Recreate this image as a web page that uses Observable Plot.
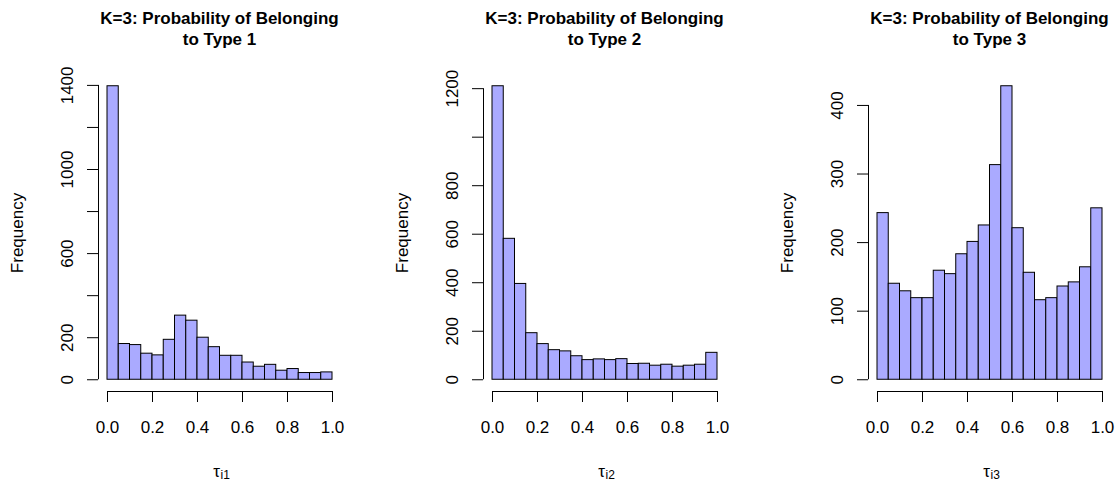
<!DOCTYPE html>
<html>
<head>
<meta charset="utf-8">
<script src="https://cdn.jsdelivr.net/npm/d3@7"></script>
<script src="https://cdn.jsdelivr.net/npm/@observablehq/plot@0.6"></script>
<style>
  html, body { margin: 0; padding: 0; background: #fff; }
  #wrap { position: relative; width: 1120px; height: 484px; overflow: hidden; background: #fff; }
  .panel { position: absolute; top: 0; width: 385px; height: 484px; }
  .title { position: absolute; top: 8px; width: 400px; text-align: center;
           font: bold 17px "Liberation Sans", Arial, sans-serif; line-height: 21px; color: #000; }
  .panel svg { position: absolute; left: 0; top: 0; }
</style>
</head>
<body>
<div id="wrap"></div>
<script>
// ---- data ----
const binStarts = [0, 0.05, 0.10, 0.15, 0.20, 0.25, 0.30, 0.35, 0.40, 0.45,
                   0.50, 0.55, 0.60, 0.65, 0.70, 0.75, 0.80, 0.85, 0.90, 0.95];
const binWidth = 0.05;

const counts1 = [1396, 170, 165, 124, 116, 190, 305, 281, 200, 155,
                 114, 114, 82, 62, 71, 43, 51, 32, 32, 35];
const counts2 = [1210, 581, 395, 192, 147, 122, 117, 97, 81, 84,
                 81, 85, 65, 66, 58, 62, 54, 58, 62, 111];
const counts3 = [243, 140, 129, 119, 119, 159, 154, 183, 201, 225,
                 313, 428, 221, 156, 116, 119, 136, 142, 164, 250];

const titles = ["K=3: Probability of Belonging<br>to Type 1",
                "K=3: Probability of Belonging<br>to Type 2",
                "K=3: Probability of Belonging<br>to Type 3"];
const xSubs = ["i1", "i2", "i3"];

const xTicks = [0, 0.2, 0.4, 0.6, 0.8, 1.0];
const yTicks1 = [0, 200, 400, 600, 800, 1000, 1200, 1400];
const yLabels1 = [0, 200, 600, 1000, 1400];
const yTicks2 = [0, 200, 400, 600, 800, 1000, 1200];
const yLabels2 = [0, 200, 400, 600, 800, 1200];
const yTicks3 = [0, 100, 200, 300, 400];
const yLabels3 = [0, 100, 200, 300, 400];

const panels = [
  {counts: counts1, yTicks: yTicks1, yLabels: yLabels1},
  {counts: counts2, yTicks: yTicks2, yLabels: yLabels2},
  {counts: counts3, yTicks: yTicks3, yLabels: yLabels3}
];

const FONT = '"Liberation Sans", Arial, sans-serif';
const W = 385, H = 484;
const mL = 98, mR = 44, mT = 74, mB = 93;

const wrap = document.getElementById("wrap");

panels.forEach((p, i) => {
  const data = binStarts.map((b, j) => ({x1: b, x2: b + binWidth, count: p.counts[j]}));
  const ymax = d3.max(p.counts);
  const yTop = p.yTicks[p.yTicks.length - 1];
  const xDom = [-0.04, 1.04];
  const yDom = [-0.04 * ymax, 1.04 * ymax];

  const chart = Plot.plot({
    width: W, height: H,
    marginLeft: mL, marginRight: mR, marginTop: mT, marginBottom: mB,
    style: {fontFamily: FONT, fontSize: "17px", color: "#000", background: "transparent"},
    x: {domain: xDom},
    y: {domain: yDom},
    marks: [
      Plot.rectY(data, {x1: "x1", x2: "x2", y1: 0, y2: "count", fill: "#AAAAFF", stroke: "#000", strokeWidth: 1}),
      // axis lines
      Plot.ruleX([xDom[0]], {y1: 0, y2: yTop, stroke: "#000", strokeWidth: 1}),
      Plot.ruleY([yDom[0]], {x1: 0, x2: 1, stroke: "#000", strokeWidth: 1}),
      Plot.axisX({ticks: xTicks, tickSize: 11, tickPadding: 18, tickFormat: d => d.toFixed(1),
                  label: null, stroke: "#000", fontSize: 17}),
      Plot.axisY({ticks: p.yTicks, tickSize: 11, tickPadding: 15, tickRotate: -90,
                  tickFormat: d => p.yLabels.includes(d) ? String(d) : "",
                  label: null, stroke: "#000", fontSize: 17}),
      Plot.text(["Frequency"], {frameAnchor: "left", rotate: -90, dx: -81, lineAnchor: "middle",
                                textAnchor: "middle", fontSize: 17, fill: "#000"}),
      Plot.text(["τ"], {x: 0.5, frameAnchor: "bottom", dy: 80, lineAnchor: "middle",
                        textAnchor: "end", fontSize: 17, fill: "#000"}),
      Plot.text([xSubs[i]], {x: 0.5, frameAnchor: "bottom", dy: 83.5, dx: 0.5, lineAnchor: "middle",
                             textAnchor: "start", fontSize: 12, fill: "#000"})
    ]
  });

  const div = document.createElement("div");
  div.className = "panel";
  div.style.left = (i * 385) + "px";
  div.appendChild(chart);
  const t = document.createElement("div");
  t.className = "title";
  t.innerHTML = titles[i];
  t.style.left = ((mL + (W - mR)) / 2 - 200) + "px";
  div.appendChild(t);
  wrap.appendChild(div);
});
</script>
</body>
</html>
